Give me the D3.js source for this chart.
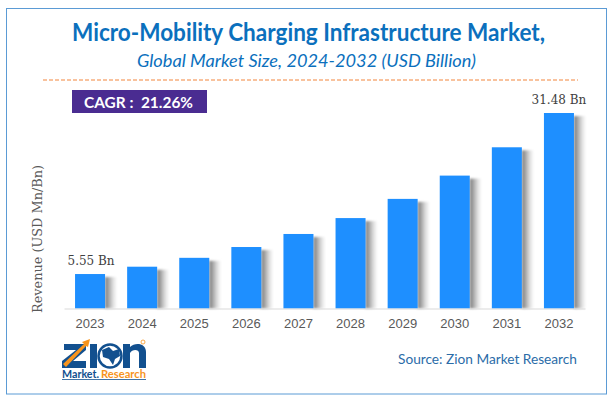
<!DOCTYPE html>
<html>
<head>
<meta charset="utf-8">
<script src="https://cdn.jsdelivr.net/npm/d3@7"></script>
<style>
html, body { margin: 0; padding: 0; background: #fff; }
svg { display: block; }
</style>
</head>
<body>
<div id="chart"></div>
<script>
const years = ["2023", "2024", "2025", "2026", "2027", "2028", "2029", "2030", "2031", "2032"];
const revenue = [5.55, 6.73, 8.16, 9.9, 12.0, 14.56, 17.65, 21.4, 25.96, 31.48];
const barLabels = ["5.55 Bn", "", "", "", "", "", "", "", "", "31.48 Bn"];

const width = 613;
const height = 402;
const serif = "'DejaVu Serif', serif";
const sans = "Lato, sans-serif";

const svg = d3.select("#chart").append("svg")
    .attr("width", width)
    .attr("height", height);

const defs = svg.append("defs");
const shade = defs.append("linearGradient").attr("id", "barShade");
shade.append("stop").attr("offset", "0%").attr("stop-color", "#777777");
shade.append("stop").attr("offset", "30%").attr("stop-color", "#a6a6a6");
shade.append("stop").attr("offset", "65%").attr("stop-color", "#dddddd");
shade.append("stop").attr("offset", "100%").attr("stop-color", "#ffffff");
defs.append("filter").attr("id", "soften")
    .attr("x", "-20%").attr("width", "140%")
    .append("feGaussianBlur").attr("stdDeviation", "0.8");

// outer frame
svg.append("rect")
    .attr("x", 6.5).attr("y", 8.5)
    .attr("width", 600).attr("height", 385.5)
    .attr("fill", "none")
    .attr("stroke", "#5b9bd5")
    .attr("stroke-width", 1);

// titles
svg.append("text")
    .attr("x", 308.5).attr("y", 41)
    .attr("text-anchor", "middle")
    .attr("textLength", 473)
    .attr("lengthAdjust", "spacingAndGlyphs")
    .style("font", `bold 25px ${sans}`)
    .attr("fill", "#0b70bd")
    .text("Micro-Mobility Charging Infrastructure Market,");

svg.append("text")
    .attr("x", 306.5).attr("y", 67)
    .attr("text-anchor", "middle")
    .attr("textLength", 339)
    .attr("lengthAdjust", "spacingAndGlyphs")
    .style("font", `italic 18px ${sans}`)
    .attr("fill", "#0b70bd")
    .text("Global Market Size, 2024-2032 (USD Billion)");

svg.append("line")
    .attr("x1", 43).attr("x2", 578)
    .attr("y1", 80).attr("y2", 80)
    .attr("stroke", "#f2853d")
    .attr("stroke-width", 1)
    .attr("stroke-dasharray", "4 2");

// CAGR badge
svg.append("rect")
    .attr("x", 72).attr("y", 90)
    .attr("width", 135).attr("height", 23)
    .attr("fill", "#4a2c91");

svg.append("text")
    .attr("x", 84).attr("y", 107.5)
    .attr("textLength", 109)
    .attr("lengthAdjust", "spacingAndGlyphs")
    .style("white-space", "pre")
    .style("font", `bold 16px ${sans}`)
    .attr("fill", "#fff")
    .text("CAGR :  21.26%");

// chart
const x = d3.scaleBand()
    .domain(years)
    .range([64, 585])
    .paddingInner(0.424)
    .paddingOuter(0.212);

const y = d3.scaleLinear()
    .domain([0, d3.max(revenue)])
    .range([308.5, 113]);

const rows = years.map((year, i) => ({ year, value: revenue[i], label: barLabels[i] }));

svg.append("g").attr("filter", "url(#soften)").selectAll("rect")
    .data(rows)
    .join("rect")
    .attr("x", d => x(d.year) + x.bandwidth())
    .attr("y", d => y(d.value) + 3)
    .attr("width", 12)
    .attr("height", d => y(0) - y(d.value) - 3)
    .attr("fill", "url(#barShade)");

svg.append("g").selectAll("rect")
    .data(rows)
    .join("rect")
    .attr("x", d => x(d.year))
    .attr("y", d => y(d.value))
    .attr("width", x.bandwidth())
    .attr("height", d => y(0) - y(d.value))
    .attr("fill", "#1e8fff");

const xAxis = svg.append("g")
    .attr("transform", `translate(0,${y(0)})`)
    .call(d3.axisBottom(x).tickSize(0).tickPadding(10));

xAxis.select(".domain").attr("stroke", "#d9d9d9").attr("stroke-width", 1);
xAxis.selectAll("text")
    .style("font", "13px 'Liberation Sans', sans-serif")
    .attr("fill", "#595959");

svg.append("g").selectAll("text")
    .data(rows.filter(d => d.label))
    .join("text")
    .attr("x", d => x(d.year) + x.bandwidth() / 2 + (d.year === "2023" ? 1 : 0))
    .attr("y", d => y(d.value) - 9)
    .attr("text-anchor", "middle")
    .style("font", `12px ${serif}`)
    .attr("fill", "#404040")
    .text(d => d.label);

svg.append("text")
    .attr("transform", "translate(42,239) rotate(-90)")
    .attr("text-anchor", "middle")
    .attr("textLength", 148)
    .attr("lengthAdjust", "spacingAndGlyphs")
    .style("font", `12.5px ${serif}`)
    .attr("fill", "#595959")
    .text("Revenue (USD Mn/Bn)");

// source
svg.append("text")
    .attr("x", 398).attr("y", 364)
    .attr("textLength", 179)
    .attr("lengthAdjust", "spacingAndGlyphs")
    .style("font", `14px ${sans}`)
    .attr("fill", "#2b6ca8")
    .text("Source: Zion Market Research");

// logo
const logo = svg.append("g");
const navy = "#12508f";
const orange = "#f7941d";

logo.append("path")
    .attr("d", "M64 344H86V350L73 361H86V368H62V361L76 350H64Z")
    .attr("fill", navy);
logo.append("path")
    .attr("d", "M63 364L84 344L82 342L90 339L88 347L86 346L66 367Z")
    .attr("fill", orange);
logo.append("rect")
    .attr("x", 90).attr("y", 344)
    .attr("width", 7).attr("height", 24)
    .attr("fill", navy);
logo.append("circle")
    .attr("cx", 110).attr("cy", 356).attr("r", 11.5)
    .attr("fill", "#fff")
    .attr("stroke", navy)
    .attr("stroke-width", 2.5);
logo.append("path")
    .attr("d", "M102 350L109 347L113 351L119 349L120 356L115 359L113 365L109 359L103 357Z")
    .attr("fill", navy);
logo.append("path")
    .attr("d", "M123 368V344H130V347C135 342 146 343 146 352V368H139V353C139 349 132 349 130 353V368Z")
    .attr("fill", navy);
logo.append("circle")
    .attr("cx", 143).attr("cy", 342).attr("r", 2)
    .attr("fill", "none")
    .attr("stroke", orange)
    .attr("stroke-width", 0.8);

logo.append("text")
    .attr("x", 62).attr("y", 378)
    .attr("textLength", 37)
    .attr("lengthAdjust", "spacingAndGlyphs")
    .style("font", `bold 11px ${sans}`)
    .attr("fill", navy)
    .text("Market.");
logo.append("text")
    .attr("x", 101).attr("y", 378)
    .attr("textLength", 45)
    .attr("lengthAdjust", "spacingAndGlyphs")
    .style("font", `bold 11px ${sans}`)
    .attr("fill", orange)
    .text("Research");
logo.append("line")
    .attr("x1", 62).attr("x2", 146)
    .attr("y1", 379.5).attr("y2", 379.5)
    .attr("stroke", navy)
    .attr("stroke-width", 0.8);
</script>
</body>
</html>
